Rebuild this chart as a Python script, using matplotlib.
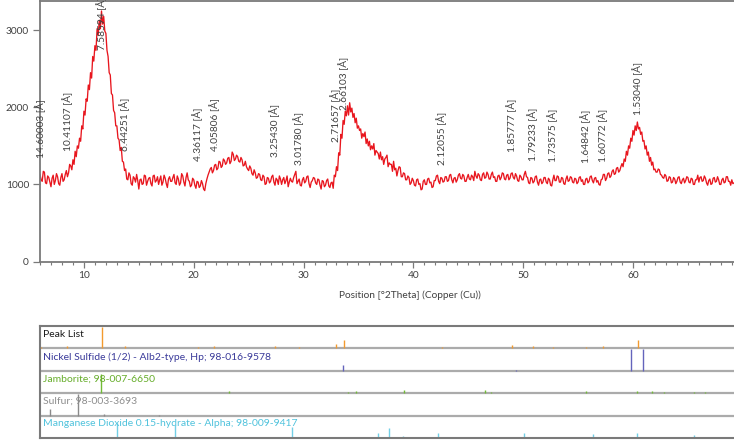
import numpy as np
import matplotlib
matplotlib.use("Agg")
import matplotlib.pyplot as plt
from matplotlib.ticker import MultipleLocator, FixedLocator
from matplotlib.transforms import blended_transform_factory

plt.rcParams['font.family'] = ['Lato', 'DejaVu Sans']

WAVELENGTH = 1.5406  # Cu K-alpha1 [Å]

# measured scan: start angle and step [°2Theta]
scan_start = 6.0
scan_step = 0.1

# intensity [counts], one value per step
counts = [
    1130, 1060, 1040, 1170, 1160, 1020, 1010, 1110, 1090, 1030,
    970, 1080, 1120, 1000, 1050, 1140, 1100, 1010, 990, 1090,
    1140, 1040, 1060, 1130, 1180, 1100, 1150, 1260, 1240, 1190,
    1320, 1260, 1430, 1360, 1500, 1470, 1600, 1560, 1760, 1720,
    1950, 1900, 2110, 2080, 2290, 2230, 2450, 2380, 2660, 2600,
    2800, 2740, 3020, 2940, 3130, 3020, 3250, 3080, 3180, 2990,
    2960, 2740, 2660, 2450, 2420, 2180, 2160, 1960, 1930, 1760,
    1760, 1600, 1580, 1440, 1480, 1300, 1290, 1180, 1200, 1070,
    1060, 1150, 1120, 1010, 990, 1100, 1080, 1030, 1130, 1050,
    940, 1060, 1070, 1000, 1010, 1120, 1110, 990, 1040, 1080,
    1090, 1010, 980, 1110, 1120, 1030, 1050, 1100, 1000, 1060,
    1110, 990, 1030, 1120, 1080, 1010, 960, 1070, 1100, 1040,
    1040, 1090, 1130, 1020, 1000, 1110, 1070, 990, 1020, 1140,
    1110, 1030, 980, 1090, 1150, 1060, 1040, 970, 990, 1080,
    1060, 990, 950, 1040, 1030, 960, 980, 1050, 1010, 940,
    920, 1010, 1070, 1120, 1160, 1200, 1220, 1150, 1180, 1250,
    1260, 1190, 1210, 1300, 1290, 1220, 1240, 1330, 1310, 1260,
    1280, 1340, 1350, 1270, 1300, 1420, 1390, 1310, 1330, 1380,
    1360, 1300, 1290, 1350, 1320, 1240, 1250, 1300, 1230, 1200,
    1180, 1240, 1210, 1140, 1120, 1190, 1150, 1080, 1090, 1140,
    1130, 1060, 1050, 1120, 1100, 1000, 1010, 1090, 1080, 1020,
    1040, 1100, 1120, 1030, 990, 1080, 1060, 1000, 1110, 1070,
    1000, 1060, 1090, 1010, 1050, 1110, 970, 1030, 1080, 1040,
    1030, 1090, 1130, 1170, 1010, 1040, 1070, 990, 980, 1060,
    1090, 1020, 1040, 1100, 1110, 1010, 960, 1030, 1050, 1090,
    1080, 1020, 1000, 1070, 1060, 990, 940, 1050, 1040, 970,
    990, 1050, 1070, 980, 960, 1020, 1030, 950, 1120, 1100,
    1230, 1180, 1410, 1380, 1650, 1600, 1830, 1780, 1950, 1890,
    2020, 1900, 2060, 1940, 1990, 1870, 1920, 1800, 1860, 1730,
    1760, 1700, 1720, 1600, 1660, 1620, 1680, 1530, 1590, 1500,
    1560, 1450, 1500, 1460, 1530, 1380, 1440, 1420, 1400, 1330,
    1420, 1320, 1360, 1260, 1330, 1350, 1380, 1230, 1280, 1260,
    1260, 1170, 1300, 1190, 1210, 1110, 1180, 1230, 1220, 1100,
    1100, 1150, 1140, 1060, 1060, 1110, 1090, 1000, 1020, 1080,
    1050, 990, 980, 1060, 1070, 1000, 1010, 930, 940, 1040,
    1060, 1000, 1000, 1070, 1080, 1020, 1030, 960, 970, 1050,
    1050, 1110, 1120, 1040, 1010, 1090, 1080, 1030, 1040, 1100,
    1100, 1040, 1050, 1120, 1130, 1060, 1020, 1080, 1090, 1030,
    1060, 1120, 1140, 1080, 1070, 1130, 1110, 1040, 1040, 1090,
    1130, 1070, 1060, 1120, 1100, 1050, 1170, 1110, 1080, 1140,
    1120, 1060, 1050, 1130, 1150, 1080, 1090, 1160, 1130, 1070,
    1070, 1130, 1160, 1090, 1100, 1040, 1040, 1110, 1120, 1060,
    1090, 1150, 1140, 1070, 1060, 1120, 1130, 1060, 1080, 1140,
    1150, 1090, 1070, 1140, 1110, 1050, 1040, 1120, 1100, 1060,
    1060, 1130, 1170, 1100, 1090, 1020, 1010, 1090, 1080, 1020,
    1040, 1100, 1110, 1030, 990, 1060, 1070, 1010, 1030, 1090,
    1090, 1030, 1010, 1080, 1060, 990, 980, 1060, 1120, 1050,
    1050, 1110, 1100, 1030, 1030, 1090, 1080, 1010, 1000, 1070,
    1110, 1040, 1050, 1100, 1090, 1030, 1020, 1080, 1070, 1010,
    1030, 1090, 1100, 1040, 1060, 1000, 1000, 1070, 1080, 1020,
    1040, 1100, 1110, 1050, 1020, 1080, 1090, 1030, 1050, 1000,
    990, 1060, 1070, 1130, 1130, 1050, 1080, 1140, 1150, 1090,
    1110, 1170, 1190, 1130, 1140, 1210, 1220, 1160, 1180, 1230,
    1270, 1230, 1330, 1300, 1430, 1380, 1500, 1470, 1600, 1560,
    1700, 1640, 1760, 1700, 1810, 1720, 1740, 1650, 1680, 1560,
    1570, 1460, 1500, 1380, 1420, 1300, 1350, 1250, 1290, 1190,
    1200, 1160, 1160, 1200, 1190, 1130, 1120, 1090, 1080, 1130,
    1110, 1040, 1050, 1100, 1090, 1020, 1030, 1090, 1070, 1010,
    1040, 1090, 1100, 1030, 1010, 1060, 1080, 1020, 1050, 1100,
    1090, 1030, 1020, 1080, 1070, 1000, 1000, 1060, 1060, 1120,
    1030, 1090, 1100, 1040, 1050, 1110, 1080, 1020, 990, 1050,
    1070, 1000, 1010, 1080, 1090, 1030, 1040, 1100, 1060, 1000,
    1000, 1060, 1080, 1020, 1030, 1100, 1100, 1040, 1040, 990,
    1060, 1010, 1020,
]

# peak list: d-spacings [Å], label base heights [counts], relative intensities [%]
peak_d = [14.60003, 10.41107, 7.58594, 6.44251, 4.36117, 4.05806, 3.25430,
          3.01780, 2.71657, 2.66103, 2.12055, 1.85777, 1.79233, 1.73575,
          1.64842, 1.60772, 1.53040]
label_base = [1340, 1440, 2740, 1440, 1310, 1440, 1350, 1250, 1545, 1960,
              1250, 1415, 1310, 1285, 1275, 1285, 1895]
peak_rel = [5, 10, 100, 13, 7, 13, 10, 5, 22, 40, 7, 16, 10, 8, 8, 12, 37]

# reference patterns: positions [°2Theta], relative intensities [%]
nis_pos = [33.56, 49.34, 59.82, 60.94]
nis_rel = [25, 3, 100, 100]

jam_pos = [11.60, 23.18, 34.07, 34.74, 37.32, 39.17, 43.79, 46.52, 47.09,
           52.50, 55.75, 59.90, 60.39, 61.70, 62.82, 65.55, 66.56]
jam_rel = [90, 12, 4, 10, 3, 14, 3, 14, 4, 3, 9, 3, 9, 8, 4, 4, 4]

sul_pos = [6.90, 9.48, 11.82, 16.86]
sul_rel = [30, 100, 8, 5]

mno_pos = [12.98, 18.29, 25.87, 28.92, 32.95, 36.78, 37.78, 39.08, 41.36,
           42.21, 46.29, 47.41, 50.07, 52.90, 54.67, 56.36, 57.13, 59.75,
           60.39, 65.58, 66.69, 67.17, 67.62, 68.79]
mno_rel = [68, 60, 5, 50, 5, 23, 45, 9, 5, 23, 5, 5, 23, 5, 5, 18, 5, 5,
           23, 14, 5, 5, 5, 5]

rows = [
    ("Peak List", "#1a1a1a", "#f39a2e", None, peak_rel),
    ("Nickel Sulfide (1/2) - Alb2-type, Hp; 98-016-9578", "#3a3a9a", "#6464bc", nis_pos, nis_rel),
    ("Jamborite; 98-007-6650", "#66ad2a", "#72bb36", jam_pos, jam_rel),
    ("Sulfur; 98-003-3693", "#8e8e8e", "#8a8a8a", sul_pos, sul_rel),
    ("Manganese Dioxide 0.15-hydrate - Alpha; 98-009-9417", "#4fc2dc", "#72cfe6", mno_pos, mno_rel),
]

W, H = 734, 444
fig = plt.figure(figsize=(W / 100, H / 100), dpi=100)

TEXT = "#404040"
FRAME = "#7a7a7a"

two_theta = scan_start + scan_step * np.arange(len(counts))
peak_tt = 2 * np.degrees(np.arcsin(WAVELENGTH / (2 * np.array(peak_d))))

# ---- diffractogram ----
ax_left, ax_w = 40, 740
px_per_deg = 694 / 63.2
xlim = (scan_start, scan_start + ax_w / px_per_deg)

ax = fig.add_axes([ax_left / W, (H - 261.5) / H, ax_w / W, 260.5 / H])
ax.plot(two_theta, counts, color="#e8161e", lw=0.95)
ax.set_xlim(*xlim)
ax.set_ylim(0, 3380)

for sp in ("left", "top", "bottom"):
    ax.spines[sp].set_color(FRAME)
    ax.spines[sp].set_linewidth(1.3)
ax.spines["right"].set_visible(False)

ax.xaxis.set_major_locator(FixedLocator([10, 20, 30, 40, 50, 60]))
ax.xaxis.set_minor_locator(MultipleLocator(1))
ax.yaxis.set_major_locator(FixedLocator([0, 1000, 2000, 3000]))
ax.tick_params(axis="both", which="major", direction="out", length=4.5,
               width=0.9, color=FRAME, labelcolor=TEXT, labelsize=7.3, pad=2.5)
ax.tick_params(axis="x", which="minor", direction="out", length=2.3,
               width=0.8, color=FRAME)
ax.tick_params(axis="y", which="major", length=5, pad=3)

ax.set_xlabel("Position [°2Theta] (Copper (Cu))", fontsize=7.3, color=TEXT)
ax.xaxis.set_label_coords(0.5, -0.112)
ax.xaxis.label.set_va("top")

for tt, d, yb in zip(peak_tt, peak_d, label_base):
    ax.text(tt, yb, f"{d:.5f} [Å]", rotation=90, ha="center", va="bottom",
            fontsize=7.3, color=TEXT, clip_on=False)

# ---- pattern list ----
bx = fig.add_axes([ax_left / W, (H - 438) / H, ax_w / W, 112 / H])
bx.set_xlim(*xlim)
bx.set_ylim(0, len(rows))
bx.set_xticks([])
bx.set_yticks([])
for sp in ("left", "top", "bottom"):
    bx.spines[sp].set_color(FRAME)
    bx.spines[sp].set_linewidth(1.5)
bx.spines["right"].set_visible(False)

tr = blended_transform_factory(bx.transAxes, bx.transData)
n = len(rows)
for i, (name, tcol, scol, pos, rel) in enumerate(rows):
    base = n - 1 - i
    if i < n - 1:
        bx.axhline(base, color="#ababab", lw=1.6, zorder=1)
    if pos is None:
        pos = peak_tt
    heights = np.array(rel) / 100.0 * 0.97
    bx.vlines(pos, base, base + heights, colors=scol, lw=1.0, zorder=2)
    bx.text(3 / ax_w, base + 0.84, name, transform=tr, ha="left", va="top",
            fontsize=7.5, color=tcol, zorder=3)

fig.savefig("out.png", dpi=100)
